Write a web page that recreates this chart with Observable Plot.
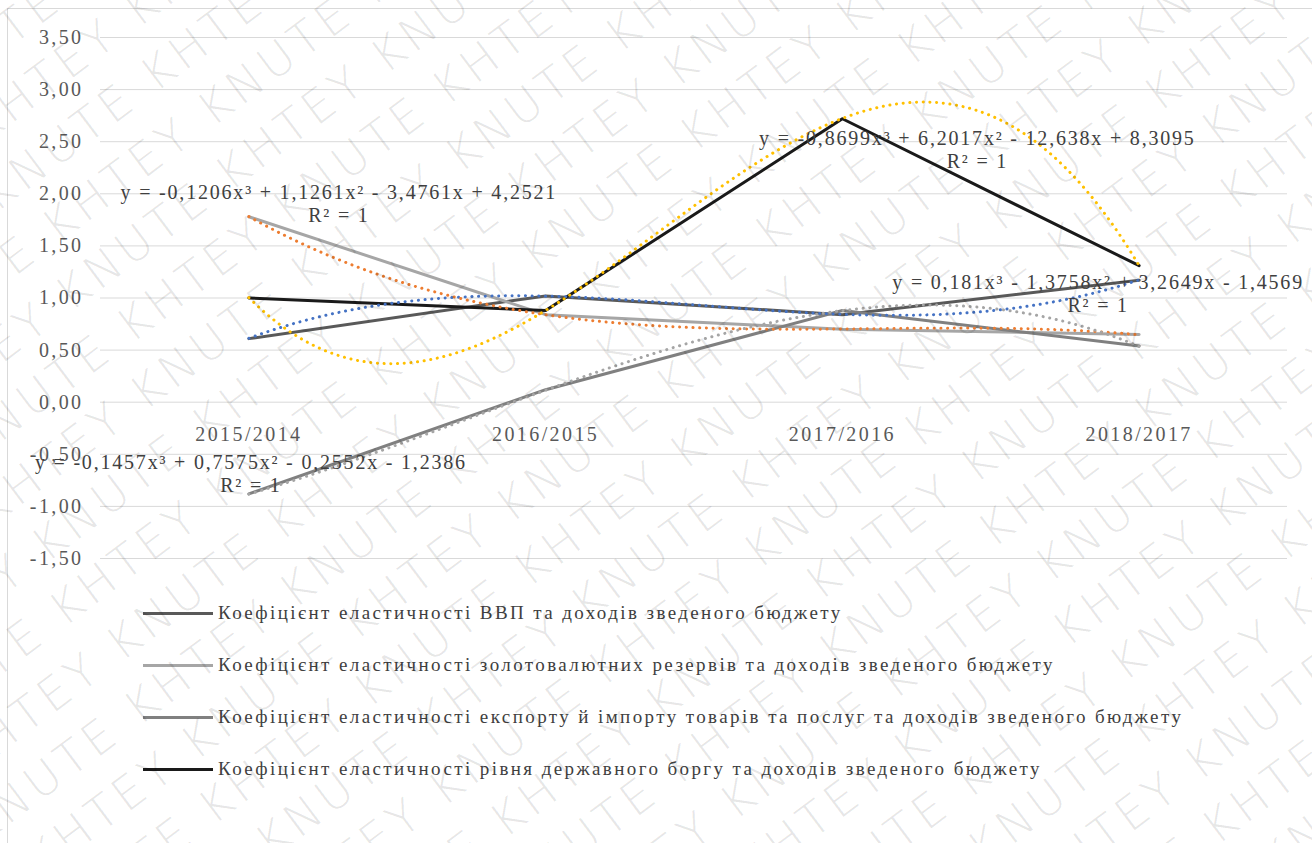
<!DOCTYPE html>
<html>
<head>
<meta charset="utf-8">
<script src="https://cdn.jsdelivr.net/npm/d3@7"></script>
<script src="https://cdn.jsdelivr.net/npm/@observablehq/plot@0.6"></script>
<style>
  html, body { margin: 0; padding: 0; background: #fff; font-family: 'Liberation Serif', serif; }
  #wrap { position: relative; width: 1312px; height: 843px; overflow: hidden; background: #fff; }
  #frame { position: absolute; left: 7px; top: 8px; width: 1400px; height: 900px; border: 1px solid #d9d9d9; box-sizing: border-box; }
  #chart { position: absolute; left: 0; top: 0; }
  #chart svg text { font-family: 'Liberation Serif', serif; }
  #chart svg g[aria-description="equation"] text { letter-spacing: 1.8px; }
  #legend { position: absolute; left: 143px; top: 587px; font-family: 'Liberation Serif', serif; font-size: 19px; letter-spacing: 2.4px; color: #404040; white-space: nowrap; }
  .row { display: flex; align-items: center; height: 52px; }
  .swatch { display: inline-block; width: 70px; height: 3px; margin-right: 5px; }
  #wm { position: absolute; left: 0; top: 0; width: 1312px; height: 843px; pointer-events: none; }
</style>
</head>
<body>
<div id="wrap">
  <div id="frame"></div>
  <div id="chart"></div>
  <div id="legend"></div>
  <div id="wm"></div>
</div>
<script>
// ---- data ----
const categories = ["2015/2014", "2016/2015", "2017/2016", "2018/2017"];
const seriesNames = [
  "Коефіцієнт еластичності ВВП та доходів зведеного бюджету",
  "Коефіцієнт еластичності золотовалютних резервів та доходів зведеного бюджету",
  "Коефіцієнт еластичності експорту й імпорту товарів та послуг та доходів зведеного бюджету",
  "Коефіцієнт еластичності рівня державного боргу та доходів зведеного бюджету"
];
const gdp = [0.61, 1.02, 0.84, 1.17];
const reserves = [1.78, 0.84, 0.70, 0.65];
const trade = [-0.88, 0.12, 0.88, 0.54];
const debt = [1.00, 0.88, 2.72, 1.31];

// polynomial trendline coefficients (x³, x², x, const) as shown in the chart
const trendGdp = [0.181, -1.3758, 3.2649, -1.4569];
const trendReserves = [-0.1206, 1.1261, -3.4761, 4.2521];
const trendTrade = [-0.1457, 0.7575, -0.2552, -1.2386];
const trendDebt = [-0.8699, 6.2017, -12.638, 8.3095];
const equations = [
  "y = 0,181x³ - 1,3758x² + 3,2649x - 1,4569",
  "y = -0,1206x³ + 1,1261x² - 3,4761x + 4,2521",
  "y = -0,1457x³ + 0,7575x² - 0,2552x - 1,2386",
  "y = -0,8699x³ + 6,2017x² - 12,638x + 8,3095"
];
const rSquared = "R² = 1";
const yTicks = [-1.5, -1, -0.5, 0, 0.5, 1, 1.5, 2, 2.5, 3, 3.5];

// ---- styles ----
const lineColors = ["#595959", "#a6a6a6", "#808080", "#1a1a1a"];
const trendColors = ["#4472c4", "#ed7d31", "#a5a5a5", "#ffc000"];
const serif = "Liberation Serif";

const allSeries = [gdp, reserves, trade, debt];
const allTrends = [trendGdp, trendReserves, trendTrade, trendDebt];

const points = allSeries.flatMap((vals, s) => vals.map((v, i) => ({s, x: i + 1, y: v})));
const trendPts = allTrends.flatMap((c, s) => d3.range(1, 4.0001, 0.02).map(t => ({s, x: t, y: ((c[0] * t + c[1]) * t + c[2]) * t + c[3]})));

const textStyle = {fontSize: 20, fill: "#404040", fontFamily: serif, ariaDescription: "equation"};

// equation label anchors: series index, point index, pixel offsets
const eqAnchor = [
  {s: 0, i: 3, dx: -41, dy: 2},
  {s: 1, i: 0, dx: 90, dy: -24},
  {s: 2, i: 0, dx: 2, dy: -31},
  {s: 3, i: 2, dx: 135, dy: 20}
];
const eqMarks = eqAnchor.flatMap(a => {
  const datum = [{x: a.i + 1, y: allSeries[a.s][a.i]}];
  return [
    Plot.text(datum, {x: "x", y: "y", text: () => equations[a.s], dx: a.dx, dy: a.dy, ...textStyle}),
    Plot.text(datum, {x: "x", y: "y", text: () => rSquared, dx: a.dx, dy: a.dy + 23, ...textStyle})
  ];
});

const fmt = d => d.toFixed(2).replace(".", ",");

const chart = Plot.plot({
  width: 1312,
  height: 580,
  marginLeft: 100,
  marginRight: 25,
  marginTop: 37,
  marginBottom: 22,
  style: {background: "transparent", fontFamily: serif, letterSpacing: "2.4px"},
  x: {type: "linear", domain: [0.5, 4.5], axis: null},
  y: {domain: [-1.5, 3.5], axis: null},
  marks: [
    Plot.gridY(yTicks, {stroke: "#d9d9d9", strokeOpacity: 1, strokeWidth: 1}),
    Plot.axisY(yTicks, {tickSize: 0, tickPadding: 17, tickFormat: fmt, fontSize: 20, fill: "#595959", fontFamily: serif, label: null}),
    Plot.text(categories, {x: (d, i) => i + 1, y: 0, text: d => d, dy: 32, fontSize: 20, fill: "#595959", fontFamily: serif}),
    Plot.line(points, {x: "x", y: "y", z: "s", stroke: d => lineColors[d.s], strokeWidth: 3, strokeLinejoin: "round", strokeLinecap: "round"}),
    Plot.line(trendPts, {x: "x", y: "y", z: "s", stroke: d => trendColors[d.s], strokeWidth: 3, strokeDasharray: "0.1 6.6", strokeLinecap: "round"}),
    ...eqMarks
  ]
});
chart.querySelectorAll('g[aria-description="equation"] text').forEach(t => t.style.letterSpacing = "1.8px");
document.getElementById("chart").appendChild(chart);

// legend
const legend = document.getElementById("legend");
seriesNames.forEach((name, i) => {
  const row = document.createElement("div");
  row.className = "row";
  const sw = document.createElement("span");
  sw.className = "swatch";
  sw.style.background = lineColors[i];
  const tx = document.createElement("span");
  tx.textContent = name;
  row.appendChild(sw);
  row.appendChild(tx);
  legend.appendChild(row);
});

// faint document watermark drawn as a background picture
let rows = "";
for (let r = 0; r < 40; r++) {
  const y = -700 + r * 62;
  const x = -900 + ((r * 170) % 340);
  rows += `<text x='${x}' y='${y}'>${Array(14).fill("KHTEY KNUTE").join(" ")}</text>`;
}
const wmSvg = `<svg xmlns='http://www.w3.org/2000/svg' width='1312' height='843'>` +
  `<g transform='rotate(-37 656 421)' font-family='DejaVu Sans, sans-serif' font-weight='200' font-size='46' letter-spacing='5' fill='rgba(0,0,0,0.1)'>` +
  rows + `</g></svg>`;
document.getElementById("wm").style.background = `url("data:image/svg+xml;utf8,${encodeURIComponent(wmSvg)}") no-repeat`;
</script>
</body>
</html>
